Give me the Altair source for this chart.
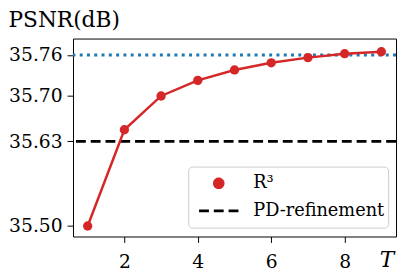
import altair as alt
import pandas as pd

# ---- data ----
T = [1, 2, 3, 4, 5, 6, 7, 8, 9]
psnr_r3 = [35.500, 35.648, 35.700, 35.724, 35.740, 35.751, 35.759, 35.765, 35.768]
pd_refinement = [35.63]
upper_bound = [35.763]
y_ticks = [35.50, 35.63, 35.70, 35.763]
x_ticks = [2, 4, 6, 8]
series_names = ["R³", "PD-refinement"]
series_colors = ["#d62728", "#000000"]

df_r3 = pd.DataFrame({"T": T, "PSNR": psnr_r3, "series": series_names[0]})
df_pd = pd.DataFrame({"PSNR": pd_refinement, "series": series_names[1]})
df_up = pd.DataFrame({"PSNR": upper_bound})

FONT = "DejaVu Serif"

x_enc = alt.X(
    "T:Q",
    scale=alt.Scale(domain=[0.6, 9.4], nice=False, zero=False),
    axis=alt.Axis(
        values=x_ticks, format="d", title="T",
        titleFontStyle="italic", titleFontWeight="normal", titleFontSize=22,
        titleAlign="left", titleBaseline="alphabetic", titleX=311, titleY=30,
        labelPadding=10,
    ),
)
y_enc = alt.Y(
    "PSNR:Q",
    scale=alt.Scale(domain=[35.4838, 35.7883], nice=False, zero=False),
    axis=alt.Axis(
        values=y_ticks, format=".2f", title="PSNR(dB)",
        titleAngle=0, titleAlign="left", titleBaseline="alphabetic",
        titleX=-66, titleY=-12, titleFontSize=22, titleFontWeight="normal",
        labelPadding=5,
    ),
)

is_pd = "datum.value === 'PD-refinement'"
legend = alt.Legend(
    title="",
    orient="none",
    legendX=117,
    legendY=130,
    padding=3,
    clipHeight=28,
    rowPadding=0,
    symbolOffset=19,
    labelOffset=26,
    labelFont=FONT,
    labelFontSize=18,
    labelColor="black",
    labelExpr="datum.label + ' '",
    strokeColor="#cccccc",
    fillColor="rgba(255,255,255,0.8)",
    cornerRadius=4,
    symbolType={"expr": f"{is_pd} ? 'stroke' : 'circle'"},
    symbolSize={"expr": f"{is_pd} ? 1600 : 80"},
    symbolFillColor={"expr": f"{is_pd} ? 'transparent' : '#d62728'"},
    symbolStrokeColor={"expr": f"{is_pd} ? '#000000' : 'transparent'"},
    symbolDash={"expr": f"{is_pd} ? [10, 5] : [1, 0]"},
    symbolStrokeWidth=2.8,
    symbolOpacity=1,
)
color_enc = alt.Color(
    "series:N",
    scale=alt.Scale(domain=series_names, range=series_colors),
    legend=legend,
)

upper = alt.Chart(df_up).mark_rule(
    color="#1f77b4", strokeDash=[3, 4.4], strokeWidth=3
).encode(y=y_enc)

pd_rule = alt.Chart(df_pd).mark_rule(
    strokeDash=[10, 5], strokeWidth=2.8
).encode(y=y_enc, color=color_enc)

line = alt.Chart(df_r3).mark_line(color="#d62728", strokeWidth=2.5).encode(x=x_enc, y=y_enc)

points = alt.Chart(df_r3).mark_point(filled=True, size=90, opacity=1).encode(
    x=x_enc, y=y_enc, color=color_enc
)

chart = (
    alt.layer(upper, pd_rule, line, points)
    .properties(
        width=328,
        height=201,
        autosize=alt.AutoSizeParams(type="none"),
        padding={"left": 66, "top": 29, "right": 2, "bottom": 33},
    )
    .configure_view(stroke="black", strokeWidth=1)
    .configure_axis(
        labelFont=FONT, labelFontSize=19, labelColor="black",
        titleFont=FONT, titleColor="black",
        tickColor="black", tickSize=6, tickWidth=1,
        domain=False, grid=False,
    )
    .configure_legend(strokeWidth=1)
)

chart.save("out.html", embed_options={"renderer": "svg", "actions": False})
